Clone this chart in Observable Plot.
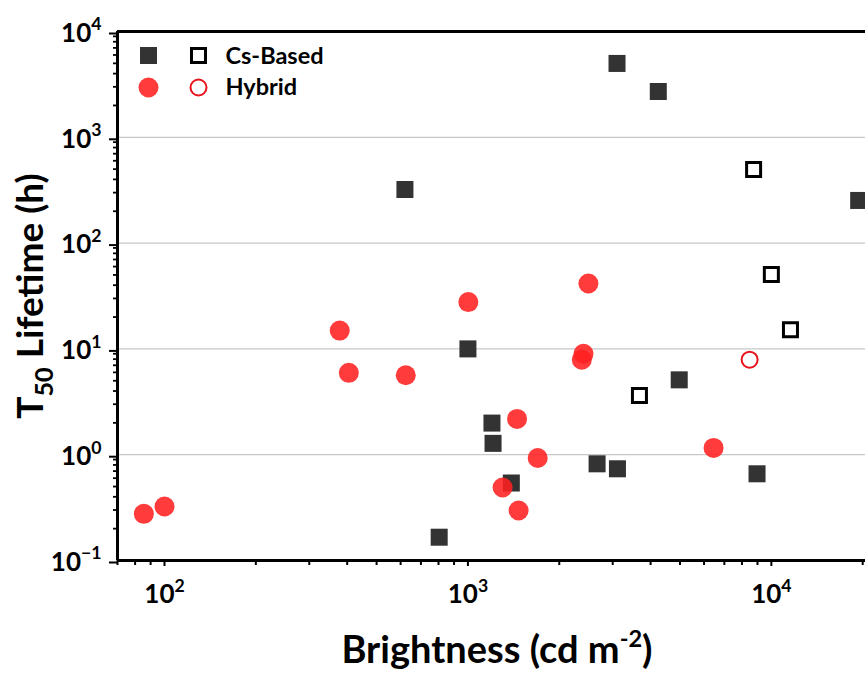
<!DOCTYPE html>
<html>
<head>
<meta charset="utf-8">
<script src="https://cdn.jsdelivr.net/npm/d3@7"></script>
<script src="https://cdn.jsdelivr.net/npm/@observablehq/plot@0.6"></script>
<style>
  html, body { margin: 0; padding: 0; background: #fff; }
  #chart { width: 865px; height: 675px; overflow: hidden; }
</style>
</head>
<body>
<div id="chart"></div>
<script>
// ---- data ----
const seriesNames = ["Cs-Based", "Hybrid"];

const csFilledX = [620, 3100, 4240, 19400, 1000, 4970, 1200, 1210, 1390, 804, 2665, 3110, 8970];
const csFilledY = [321, 4990, 2710, 253, 10, 5.1, 1.99, 1.28, 0.54, 0.166, 0.82, 0.736, 0.66];

const csOpenX = [8740, 10000, 11560, 3675];
const csOpenY = [497, 50.5, 15.2, 3.63];

const hyFilledX = [85.5, 100, 378, 405, 624, 1003, 2495, 2404, 2373, 1452, 1698, 1301, 1469, 6450];
const hyFilledY = [0.276, 0.324, 14.9, 5.94, 5.64, 27.7, 41.5, 9.0, 7.9, 2.18, 0.93, 0.49, 0.297, 1.16];

const hyOpenX = [8480];
const hyOpenY = [7.9];

const xTicks = [100, 1000, 10000];
const xTickExp = ["2", "3", "4"];
const yTicks = [0.1, 1, 10, 100, 1000, 10000];
const yTickExp = ["\u22121", "0", "1", "2", "3", "4"];
const gridY = [1, 10, 100, 1000];

const xLabel = ["Brightness (cd m", "-2", ")"];
const yLabel = ["T", "50", " Lifetime (h)"];

// ---- helpers ----
const zip = (xs, ys) => xs.map((x, i) => ({x, y: ys[i]}));
const csFilled = zip(csFilledX, csFilledY);
const csOpen = zip(csOpenX, csOpenY);
const hyFilled = zip(hyFilledX, hyFilledY);
const hyOpen = zip(hyOpenX, hyOpenY);

// minor log ticks (2..9 × decade)
const minor = (lo, hi) => {
  const out = [];
  for (let e = lo; e <= hi; e++) for (let m = 2; m <= 9; m++) out.push(m * Math.pow(10, e));
  return out;
};
const xMinor = minor(1, 4).filter(v => v >= 70 && v <= 20430);
const yMinor = minor(-1, 3);

const RED = "#ff2020";
const DARK = "#333333";
const FONT = "Lato, 'Open Sans', sans-serif";
const TICK_FS = 26;

const svg = Plot.plot({
  width: 865,
  height: 675,
  marginLeft: 117,
  marginRight: 0,
  marginTop: 31,
  marginBottom: 115,
  style: {fontFamily: FONT, fontWeight: "bold", background: "#fff", color: "#000"},
  x: {type: "log", domain: [70, 20430]},
  y: {type: "log", domain: [0.1, 10000]},
  marks: [
    Plot.ruleY(gridY, {stroke: "#c8c8c8", strokeWidth: 1.3}),
    // minor ticks
    Plot.axisX({ticks: xMinor, tickSize: 5, tickFormat: () => "", strokeWidth: 2, label: null}),
    Plot.axisY({ticks: yMinor, tickSize: 4, tickFormat: () => "", strokeWidth: 1.8, label: null}),
    // major ticks
    Plot.axisX({ticks: xTicks, tickSize: 6, tickPadding: 18, fontSize: TICK_FS, strokeWidth: 2,
      tickFormat: d => "10^" + xTickExp[xTicks.indexOf(d)], label: null}),
    Plot.axisY({ticks: yTicks, tickSize: 8, tickPadding: 8, fontSize: TICK_FS, strokeWidth: 2, dy: 2,
      tickFormat: d => "10^" + yTickExp[yTicks.indexOf(d)], label: null}),
    // data
    Plot.dot(csFilled, {x: "x", y: "y", symbol: "square", r: 9.6, fill: DARK, clip: true}),
    Plot.dot(csOpen, {x: "x", y: "y", symbol: "square", r: 7.9, fill: "#fff", stroke: "#000", strokeWidth: 3, clip: true}),
    Plot.dot(hyFilled, {x: "x", y: "y", r: 10, fill: RED, fillOpacity: 0.88, clip: true}),
    Plot.dot(hyOpen, {x: "x", y: "y", r: 8, fill: "none", stroke: "#e8141c", strokeWidth: 2, clip: true}),
    // axis lines
    Plot.ruleY([10000], {stroke: "#000", strokeWidth: 3}),
    Plot.ruleY([0.1], {stroke: "#000", strokeWidth: 3}),
    Plot.ruleX([70], {stroke: "#000", strokeWidth: 3}),
    // legend
    Plot.dot([seriesNames[0]], {frameAnchor: "top-left", dx: 31, dy: 24, symbol: "square", r: 9.6, fill: DARK}),
    Plot.dot([seriesNames[0]], {frameAnchor: "top-left", dx: 81, dy: 24, symbol: "square", r: 7.9, fill: "#fff", stroke: "#000", strokeWidth: 3}),
    Plot.dot([seriesNames[1]], {frameAnchor: "top-left", dx: 31, dy: 56, r: 10, fill: RED, fillOpacity: 0.88}),
    Plot.dot([seriesNames[1]], {frameAnchor: "top-left", dx: 81, dy: 56, r: 8, fill: "none", stroke: "#e8141c", strokeWidth: 2}),
    Plot.text([seriesNames[0]], {text: d => d, frameAnchor: "top-left", dx: 108, dy: 25, lineAnchor: "middle", textAnchor: "start", fontSize: 23.5, fontWeight: "bold", fill: "#000"}),
    Plot.text([seriesNames[1]], {text: d => d, frameAnchor: "top-left", dx: 108, dy: 56, lineAnchor: "middle", textAnchor: "start", fontSize: 23.5, fontWeight: "bold", fill: "#000"})
  ]
});

const s = d3.select(svg);
// superscript tick labels
s.selectAll('g[aria-label$="tick label"] text').each(function() {
  const t = this.textContent;
  if (!t.includes("^")) return;
  const [b, e] = t.split("^");
  const el = d3.select(this);
  el.text("");
  el.append("tspan").text(b);
  el.append("tspan").attr("dy", -0.44 * TICK_FS).attr("font-size", 0.68 * TICK_FS).text(e);
});

// x axis label
const XFS = 38;
const xl = s.append("text")
  .attr("transform", "translate(497,663)")
  .attr("text-anchor", "middle")
  .attr("font-family", FONT)
  .attr("font-weight", "bold")
  .attr("font-size", XFS)
  .attr("fill", "#000");
xl.append("tspan").text(xLabel[0]);
xl.append("tspan").attr("dy", -0.42 * XFS).attr("font-size", 0.62 * XFS).text(xLabel[1]);
xl.append("tspan").attr("dy", 0.42 * XFS).text(xLabel[2]);

// y axis label
const YFS = 37;
const yl = s.append("text")
  .attr("transform", "translate(43,296) rotate(-90)")
  .attr("text-anchor", "middle")
  .attr("font-family", FONT)
  .attr("font-weight", "bold")
  .attr("font-size", YFS)
  .attr("fill", "#000");
yl.append("tspan").text(yLabel[0]);
yl.append("tspan").attr("dy", 0.28 * YFS).attr("font-size", 0.68 * YFS).text(yLabel[1]);
yl.append("tspan").attr("dy", -0.28 * YFS).text(yLabel[2]);

document.getElementById("chart").appendChild(svg);
</script>
</body>
</html>
